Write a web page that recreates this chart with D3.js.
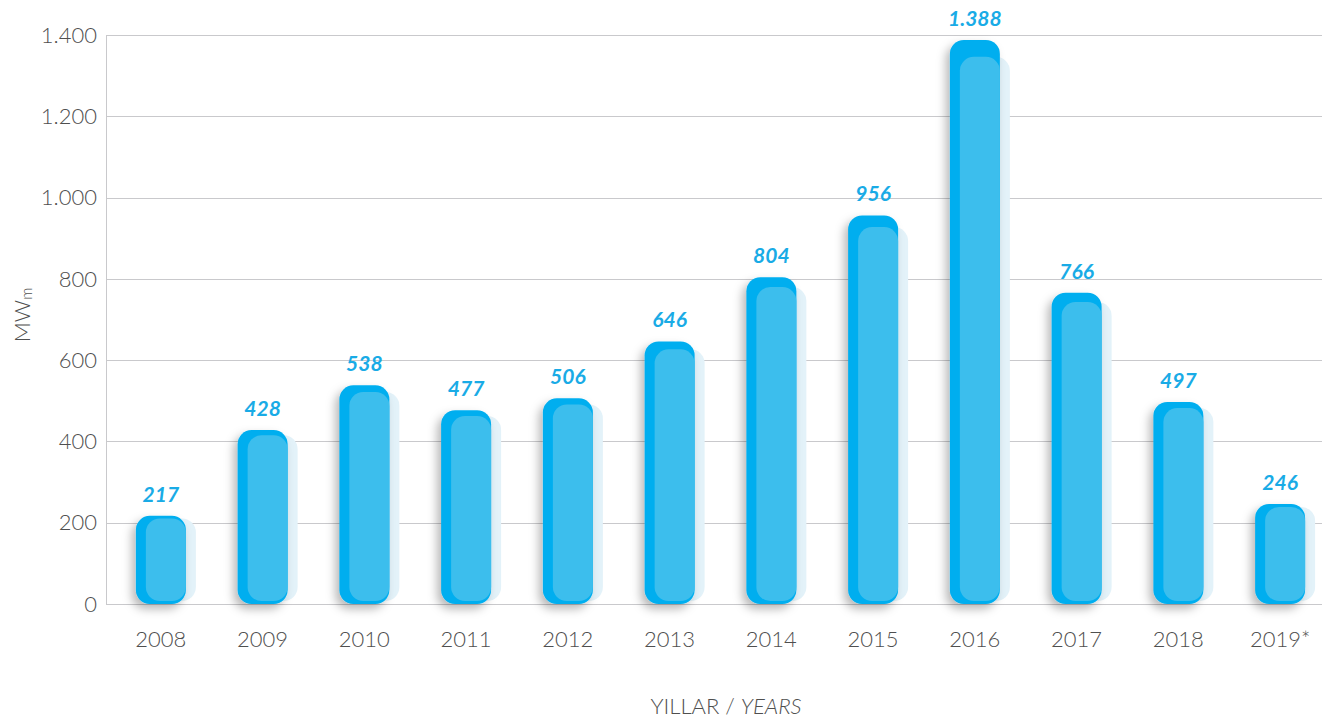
<!DOCTYPE html>
<html lang="tr">
<head>
<meta charset="utf-8">
<title>MWm / Yıllar</title>
<script src="https://cdn.jsdelivr.net/npm/d3@7"></script>
<style>
  html, body { margin: 0; padding: 0; background: #fff; }
  svg { display: block; font-family: "Lato", "Open Sans", sans-serif; }
  .tick-label { fill: #4f4f4f; font-size: 22px; font-weight: 300; }
  .val-label { fill: #19abe6; font-size: 21px; font-weight: 700; font-style: italic; }
</style>
</head>
<body>
<div id="chart"></div>
<script>
  // data
  var years = ["2008","2009","2010","2011","2012","2013","2014","2015","2016","2017","2018","2019*"];
  var values = [217, 428, 538, 477, 506, 646, 804, 956, 1388, 766, 497, 246];
  var yTicks = [0, 200, 400, 600, 800, 1000, 1200, 1400];

  var width = 1322, height = 724;
  var plotLeft = 106, plotTop = 35, plotBottom = 604;

  var tr = d3.formatLocale({ decimal: ",", thousands: ".", grouping: [3], currency: ["", ""] });
  var fmt = tr.format(",");

  var svg = d3.select("#chart").append("svg")
      .attr("width", width)
      .attr("height", height);

  var defs = svg.append("defs");
  var f = defs.append("filter").attr("id", "shadow")
      .attr("x", "-50%").attr("y", "-20%").attr("width", "200%").attr("height", "140%");
  f.append("feDropShadow").attr("dx", -4).attr("dy", 5).attr("stdDeviation", 5)
      .attr("flood-color", "#000").attr("flood-opacity", 0.28);

  var x = d3.scaleBand().domain(years).range([110, 1331]).paddingInner(0.5).paddingOuter(0.25);
  var y = d3.scaleLinear().domain([0, 1400]).range([plotBottom, plotTop]);

  // grid
  svg.append("g").selectAll("line").data(yTicks).enter().append("line")
      .attr("x1", plotLeft).attr("x2", width)
      .attr("y1", function(d){ return Math.round(y(d)) + 0.5; })
      .attr("y2", function(d){ return Math.round(y(d)) + 0.5; })
      .attr("stroke", "#c9c9cc").attr("stroke-width", 1);
  svg.append("line")
      .attr("x1", plotLeft + 0.5).attr("x2", plotLeft + 0.5)
      .attr("y1", plotTop).attr("y2", plotBottom)
      .attr("stroke", "#c9c9cc");

  // y tick labels
  svg.append("g").selectAll("text").data(yTicks).enter().append("text")
      .attr("class", "tick-label")
      .attr("x", 97).attr("y", function(d){ return y(d); })
      .attr("dy", "0.35em")
      .attr("text-anchor", "end")
      .text(function(d){ return fmt(d); });

  // bars
  var bw = 50, r = 14;
  var bars = svg.append("g").selectAll("g").data(values).enter().append("g")
      .attr("transform", function(d, i){ return "translate(" + (x(years[i]) + x.bandwidth()/2 - bw/2) + ",0)"; });

  // pale back shape
  bars.append("rect")
      .attr("x", 10).attr("width", bw)
      .attr("y", function(d){ return y(d) + (plotBottom - y(d)) * 0.03; })
      .attr("height", function(d){ return (plotBottom - y(d)) * 0.97 - 3; })
      .attr("rx", r).attr("fill", "#e3f2f9");
  // main bar
  bars.append("rect")
      .attr("x", 0).attr("width", bw)
      .attr("y", function(d){ return y(d); })
      .attr("height", function(d){ return plotBottom - y(d); })
      .attr("rx", r).attr("fill", "#00aeef")
      .attr("filter", "url(#shadow)");
  // lighter face
  bars.append("rect")
      .attr("x", 10).attr("width", bw - 10)
      .attr("y", function(d){ return y(d) + (plotBottom - y(d)) * 0.03; })
      .attr("height", function(d){ return (plotBottom - y(d)) * 0.97 - 3; })
      .attr("rx", r).attr("fill", "#3cbeed");

  // value labels
  svg.append("g").selectAll("text").data(values).enter().append("text")
      .attr("class", "val-label")
      .attr("x", function(d, i){ return x(years[i]) + x.bandwidth()/2; })
      .attr("y", function(d){ return y(d) - 14; })
      .attr("text-anchor", "middle")
      .text(function(d){ return fmt(d); });

  // x tick labels
  svg.append("g").selectAll("text").data(years).enter().append("text")
      .attr("class", "tick-label")
      .attr("x", function(d){ return x(d) + x.bandwidth()/2; })
      .attr("y", 647)
      .attr("text-anchor", "middle")
      .text(function(d){ return d; });

  // axis titles
  var xt = svg.append("text").attr("class", "tick-label")
      .attr("x", 726).attr("y", 714).attr("text-anchor", "middle");
  xt.append("tspan").text("YILLAR / ");
  xt.append("tspan").attr("font-style", "italic").text("YEARS");

  var yt = svg.append("text").attr("class", "tick-label")
      .attr("transform", "translate(30,315) rotate(-90)")
      .attr("text-anchor", "middle");
  yt.append("tspan").text("MW");
  yt.append("tspan").attr("font-size", "15px").attr("dy", "2").text("m");
</script>
</body>
</html>
